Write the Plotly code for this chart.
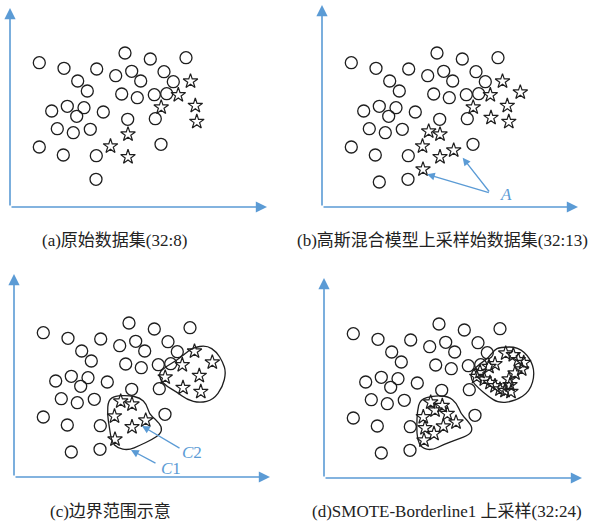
import plotly.graph_objects as go

W, H = 611, 528

# Majority class (circles), shared by all four panels
maj_x = [29.3, 54.0, 86.7, 115.0, 140.3, 176.0, 67.7, 77.3, 105.7, 121.7, 130.7, 154.0,
         163.3, 111.7, 127.3, 144.3, 156.7, 41.7, 57.3, 74.0, 66.7, 93.3, 117.7, 145.3,
         47.3, 63.3, 80.3, 29.3, 53.3, 86.3, 151.0, 86.0]
maj_y = [144.3, 138.7, 138.0, 154.0, 148.0, 149.3, 126.0, 116.0, 131.3, 135.7, 126.0, 135.3,
         125.3, 113.0, 109.3, 112.3, 113.3, 96.0, 100.7, 99.3, 90.7, 95.0, 87.7, 88.3,
         78.3, 74.3, 77.7, 60.0, 52.0, 51.3, 62.7, 27.7]
# one more majority sample appears in panels b-d
maj_extra_x = [57.3]
maj_extra_y = [25.0]

# Original minority class (stars)
min_x = [180.5, 168.3, 151.2, 185.3, 186.8, 118.0, 100.5, 118.0]
min_y = [125.7, 112.0, 99.7, 101.3, 85.3, 72.7, 60.8, 50.0]

# Samples added by the Gaussian mixture oversampler
gmm_x = [198.3, 169.0, 106.7, 131.7, 101.0]
gmm_y = [114.7, 89.3, 75.7, 56.7, 37.7]

# Minority class after SMOTE-Borderline1
smote_x = [181.7, 189.3, 194.3, 199.7, 197.7, 191.0, 185.0, 186.0, 187.0, 181.0, 176.0, 171.0,
           166.0, 160.3, 152.7, 156.0, 165.0, 171.0,
           106.7, 118.3, 111.0, 99.3, 123.3, 132.0, 119.3, 110.0, 101.0, 100.0]
smote_y = [124.7, 123.0, 118.0, 115.3, 108.7, 104.7, 98.7, 93.0, 86.3, 87.3, 88.7, 92.0,
           95.3, 98.7, 101.3, 106.3, 111.3, 114.0,
           75.7, 72.3, 67.7, 61.0, 64.3, 55.7, 51.7, 44.3, 50.0, 37.7]

# Boundary outlines (control points)
c_upper = [(178.7, 129.3), (192.7, 131.7), (202.7, 125.0), (208.7, 115.0), (212.0, 105.0),
           (208.7, 90.0), (199.3, 77.3), (186.0, 74.0), (172.7, 77.3), (162.7, 85.0),
           (152.7, 90.7), (146.0, 97.3), (145.3, 105.0), (152.7, 110.7), (162.7, 116.7),
           (171.0, 123.3)]
c_lower = [(94.3, 76.7), (101.0, 81.0), (114.3, 81.7), (126.0, 79.3), (132.7, 72.7),
           (135.3, 62.7), (142.0, 57.3), (148.0, 50.0), (146.7, 43.3), (137.7, 37.3),
           (126.0, 31.7), (114.3, 26.7), (103.3, 29.0), (97.7, 35.0), (95.3, 50.0),
           (93.3, 63.3)]
d_upper = [(176.0, 131.0), (194.3, 131.0), (206.0, 120.0), (211.0, 105.0), (206.0, 86.7),
           (191.0, 76.7), (174.3, 75.0), (164.3, 81.7), (154.3, 90.0), (146.7, 98.3),
           (147.7, 106.7), (156.0, 114.3), (164.3, 120.0), (170.0, 127.7)]
d_lower = [(96.0, 78.3), (109.3, 82.3), (124.3, 81.7), (132.7, 75.0), (136.7, 64.3),
           (143.3, 57.7), (148.7, 50.0), (146.0, 43.3), (132.7, 38.3), (119.3, 33.3),
           (107.7, 27.7), (97.7, 30.0), (93.3, 38.3), (92.7, 51.7), (93.3, 66.7)]

captions = ["(a)原始数据集(32:8)", "(b)高斯混合模型上采样始数据集(32:13)",
            "(c)边界范围示意", "(d)SMOTE-Borderline1 上采样(32:24)"]

# panel origin (pixels), axis lengths and caption centre
panels = [
    dict(ox=10, oy=207, xl=257, yl=199, cap=(114, 240)),
    dict(ox=322, oy=207, xl=256, yl=202, cap=(442, 240)),
    dict(ox=14, oy=477, xl=256, yl=203, cap=(110, 511)),
    dict(ox=324, oy=478, xl=258, yl=200, cap=(447, 511)),
]

AX_BLUE = "#5b9bd5"
INK = "#1e1e1e"
CAP_FONT = dict(family="Liberation Serif, Noto Sans CJK SC", size=17, color="#222")

fig = go.Figure()
layout = dict(width=W, height=H, margin=dict(l=0, r=0, t=0, b=0),
              paper_bgcolor="white", plot_bgcolor="white", showlegend=False)
annotations = []
shapes = []


def blob_path(pts):
    # smooth closed outline: quadratic curves through edge midpoints
    n = len(pts)
    mids = [((pts[i][0] + pts[(i + 1) % n][0]) / 2, (pts[i][1] + pts[(i + 1) % n][1]) / 2)
            for i in range(n)]
    d = f"M {mids[-1][0]},{mids[-1][1]}"
    for i in range(n):
        d += f" Q {pts[i][0]},{pts[i][1]} {mids[i][0]},{mids[i][1]}"
    return d + " Z"


for i, p in enumerate(panels):
    k = "" if i == 0 else str(i + 1)
    xa, ya = "x" + k, "y" + k
    layout["xaxis" + k] = dict(domain=[p["ox"] / W, (p["ox"] + p["xl"]) / W],
                               range=[0, p["xl"]], visible=False, anchor=ya, fixedrange=True)
    layout["yaxis" + k] = dict(domain=[(H - p["oy"]) / H, (H - p["oy"] + p["yl"]) / H],
                               range=[0, p["yl"]], visible=False, anchor=xa, fixedrange=True)

    cx = maj_x + ([] if i == 0 else maj_extra_x)
    cy = maj_y + ([] if i == 0 else maj_extra_y)
    fig.add_trace(go.Scatter(x=cx, y=cy, mode="markers", xaxis=xa, yaxis=ya, cliponaxis=False,
                             marker=dict(symbol="circle-open", size=12, color=INK,
                                         line=dict(width=1.3, color=INK))))
    if i == 0:
        sx, sy = min_x, min_y
    elif i in (1, 2):
        sx, sy = min_x + gmm_x, min_y + gmm_y
    else:
        sx, sy = smote_x, smote_y
    fig.add_trace(go.Scatter(x=sx, y=sy, mode="markers", xaxis=xa, yaxis=ya, cliponaxis=False,
                             marker=dict(symbol="star-open", size=11, color=INK,
                                         line=dict(width=1.2, color=INK))))

    # axes with arrowheads
    for (tx, ty) in [(p["xl"], 0), (0, p["yl"])]:
        annotations.append(dict(x=tx, y=ty, ax=0, ay=0, xref=xa, yref=ya, axref=xa, ayref=ya,
                                showarrow=True, arrowhead=2, arrowsize=1.4, arrowwidth=1.6,
                                arrowcolor=AX_BLUE, text=""))

    annotations.append(dict(x=p["cap"][0] / W, y=1 - p["cap"][1] / H, xref="paper", yref="paper",
                            text=captions[i], showarrow=False, font=CAP_FONT,
                            xanchor="center", yanchor="middle"))

# pointers in panel (b)
for (tx, ty) in [(105.0, 32.7), (140.7, 49.3)]:
    annotations.append(dict(x=tx, y=ty, ax=168.3, ay=14.0, xref="x2", yref="y2", axref="x2",
                            ayref="y2", showarrow=True, arrowhead=2, arrowsize=1.2,
                            arrowwidth=1.3, arrowcolor=AX_BLUE, text=""))
annotations.append(dict(x=183.5, y=12.7, xref="x2", yref="y2", text="<i>A</i>", showarrow=False,
                        font=dict(family="Liberation Serif", size=17, color=AX_BLUE)))

# pointers in panel (c)
annotations.append(dict(x=128.0, y=51.0, ax=167.0, ay=28.0, xref="x3", yref="y3", axref="x3",
                        ayref="y3", showarrow=True, arrowhead=2, arrowsize=1.2, arrowwidth=1.3,
                        arrowcolor=AX_BLUE, text=""))
annotations.append(dict(x=117.0, y=27.0, ax=143.0, ay=13.0, xref="x3", yref="y3", axref="x3",
                        ayref="y3", showarrow=True, arrowhead=2, arrowsize=1.2, arrowwidth=1.3,
                        arrowcolor=AX_BLUE, text=""))
annotations.append(dict(x=177.7, y=24.3, xref="x3", yref="y3", text="<i>C</i>2", showarrow=False,
                        font=dict(family="Liberation Serif", size=17, color=AX_BLUE)))
annotations.append(dict(x=157.0, y=8.3, xref="x3", yref="y3", text="<i>C</i>1", showarrow=False,
                        font=dict(family="Liberation Serif", size=17, color=AX_BLUE)))

for pts, xa, ya in [(c_upper, "x3", "y3"), (c_lower, "x3", "y3"),
                    (d_upper, "x4", "y4"), (d_lower, "x4", "y4")]:
    shapes.append(dict(type="path", path=blob_path(pts), xref=xa, yref=ya,
                       line=dict(color=INK, width=1.3)))

layout["annotations"] = annotations
layout["shapes"] = shapes
fig.update_layout(**layout)
fig.write_html("out.html")
